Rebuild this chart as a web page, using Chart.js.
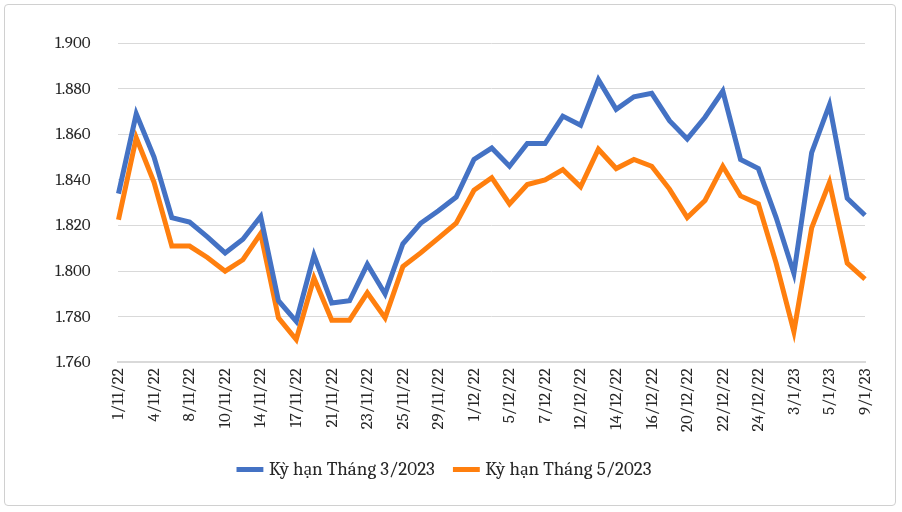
<!DOCTYPE html>
<html>
<head>
<meta charset="utf-8">
<script src="https://cdn.jsdelivr.net/npm/chart.js@4"></script>
<style>
  html, body { margin: 0; padding: 0; background: #fff; }
  #wrap { position: absolute; left: 4px; top: 4px; width: 892px; height: 502px;
          border: 1px solid #d0d0d0; border-radius: 4px; box-sizing: border-box; }
</style>
</head>
<body>
<div id="wrap"><canvas id="chart"></canvas></div>
<script>
// Ngày giao dịch (chỉ hiện nhãn cách một)
const ngay = ['1/11/22','3/11/22','4/11/22','7/11/22','8/11/22','9/11/22','10/11/22','11/11/22','14/11/22','15/11/22',
  '17/11/22','18/11/22','21/11/22','22/11/22','23/11/22','24/11/22','25/11/22','28/11/22','29/11/22','30/11/22',
  '1/12/22','2/12/22','5/12/22','6/12/22','7/12/22','8/12/22','12/12/22','13/12/22','14/12/22','15/12/22',
  '16/12/22','19/12/22','20/12/22','21/12/22','22/12/22','23/12/22','24/12/22','29/12/22','3/1/23','4/1/23',
  '5/1/23','6/1/23','9/1/23'];

const thang3 = [1834,1869,1850,1823.5,1821.5,1815,1808,1814,1824,1787,
  1778,1807,1786,1787,1803,1790,1812,1821,1826.5,1832.5,
  1849,1854,1846,1856,1856,1868,1864,1884,1871,1876.5,
  1878,1866,1858,1867.5,1879,1849,1845,1823.5,1799,1852,
  1873,1832,1824.5];

const thang5 = [1822.5,1858.5,1839,1811,1811,1806,1800,1805,1816.5,1779.5,
  1770,1797,1778.5,1778.5,1790.5,1779.5,1802,1808,1814.5,1821,
  1835.5,1841,1829.5,1838,1840,1844.5,1837,1853.5,1845,1849,
  1846,1836,1823.5,1831,1846,1833,1829.5,1803.5,1773.5,1819,
  1839,1803.5,1796.5];

const font = 'Cambria, "Liberation Serif", "DejaVu Serif", serif';

new Chart(document.getElementById('chart'), {
  type: 'line',
  data: {
    labels: ngay,
    datasets: [
      { label: 'Kỳ hạn Tháng 3/2023', data: thang3, borderColor: '#4472c4', backgroundColor: '#4472c4',
        borderWidth: 5, pointRadius: 0, tension: 0 },
      { label: 'Kỳ hạn Tháng 5/2023', data: thang5, borderColor: '#ff7f0e', backgroundColor: '#ff7f0e',
        borderWidth: 5, pointRadius: 0, tension: 0 }
    ]
  },
  options: {
    responsive: true,
    maintainAspectRatio: false,
    animation: false,
    layout: { padding: { left: 22, right: 30, top: 18, bottom: 16 } },
    plugins: {
      legend: {
        position: 'bottom',
        labels: {
          font: { family: font, size: 19 }, color: '#262626',
          usePointStyle: true, pointStyle: 'line', boxWidth: 55, padding: 22
        }
      },
      tooltip: { enabled: false }
    },
    scales: {
      x: {
        offset: false,
        grid: { display: false, drawTicks: false },
        border: { color: '#d9d9d9', width: 2 },
        ticks: {
          autoSkip: false, maxRotation: 90, minRotation: 90, padding: 6,
          font: { family: font, size: 17 }, color: '#262626',
          callback: (v, i) => i % 2 === 0 ? ngay[i] : ''
        }
      },
      y: {
        min: 1760, max: 1900,
        grid: { color: '#d9d9d9', drawTicks: false },
        border: { display: false },
        ticks: {
          stepSize: 20, padding: 28,
          font: { family: font, size: 17 }, color: '#262626',
          callback: v => '1.' + String(v - 1000).padStart(3, '0')
        }
      }
    }
  }
});
</script>
</body>
</html>
